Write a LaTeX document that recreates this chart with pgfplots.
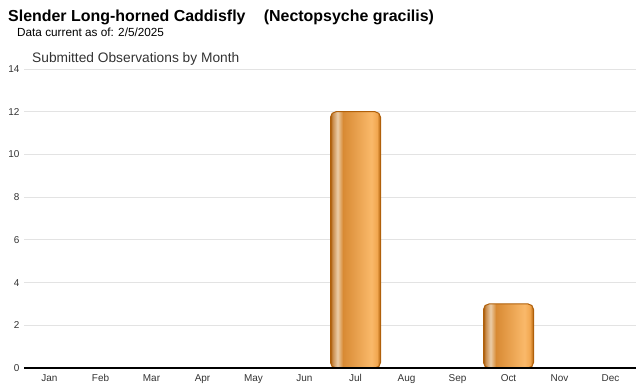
\documentclass[border=0pt]{standalone}
\usepackage{fontspec}
\setmainfont{Liberation Sans}
\usepackage{pgfplots}
\pgfplotsset{compat=1.18}
\definecolor{gridc}{HTML}{E3E3E3}
\definecolor{barborder}{HTML}{B0600A}
\definecolor{ticklab}{HTML}{333333}
\definecolor{sA}{HTML}{A85A08}
\definecolor{sB}{HTML}{C98A48}
\definecolor{sC}{HTML}{EBCDA8}
\definecolor{sD}{HTML}{D88A34}
\definecolor{sE}{HTML}{FAB96A}
\definecolor{sF}{HTML}{F2A750}
\definecolor{sG}{HTML}{B0600A}
\pgfdeclarehorizontalshading{barshade}{100bp}{%
color(0bp)=(sA);
color(25bp)=(sA);
color(27bp)=(sB);
color(32bp)=(sC);
color(37.5bp)=(sD);
color(66bp)=(sE);
color(71.5bp)=(sF);
color(75bp)=(sG);
color(100bp)=(sG)}
\begin{document}
\begin{tikzpicture}[x=1bp,y=1bp]
\path (0,0) rectangle (640,390);
\node[anchor=base west,inner sep=0pt,font=\bfseries\fontsize{16}{19}\selectfont] at (8,369) {Slender Long-horned Caddisfly\hspace{1.15em}(Nectopsyche gracilis)};
\node[anchor=base west,inner sep=0pt,font=\fontsize{11.8}{14}\selectfont] at (17,354) {Data current as of: 2/5/2025};
\node[anchor=base west,inner sep=0pt,font=\fontsize{13.8}{16}\selectfont,text=ticklab] at (32,328) {Submitted Observations by Month};
\begin{axis}[
  at={(24bp,22bp)}, anchor=south west,
  scale only axis, width=612bp, height=299bp,
  xmin=-0.5, xmax=11.5, ymin=0, ymax=14,
  ytick={0,2,...,14},
  xtick={0,...,11},
  xticklabels={Jan,Feb,Mar,Apr,May,Jun,Jul,Aug,Sep,Oct,Nov,Dec},
  axis lines*=left,
  y axis line style={draw=none},
  x axis line style={draw=none},
  ymajorgrids, grid style={gridc, line width=0.8bp},
  major tick length=0pt,
  tick label style={font=\fontsize{10}{12}\selectfont, text=ticklab},
  /pgf/number format/assume math mode=true,
  yticklabel style={xshift=-1bp},
  xticklabel style={yshift=-3bp},
  clip=false,
]
\addplot[ybar, bar width=50bp, bar shift=0pt, draw=barborder, line width=1bp, rounded corners=5.5bp, shading=barshade]
  coordinates {(6,12)};
\addplot[ybar, bar width=50bp, bar shift=0pt, draw=barborder, line width=1bp, rounded corners=5.5bp, shading=barshade]
  coordinates {(9,3)};
\end{axis}
\begin{axis}[
  at={(24bp,22bp)}, anchor=south west,
  scale only axis, width=612bp, height=299bp,
  xmin=-0.5, xmax=11.5, ymin=0, ymax=14,
  axis x line*=bottom, axis y line=none,
  x axis line style={black, line width=1.5bp, -},
  xtick=\empty, ytick=\empty,
]
\addplot[draw=none] coordinates {(0,0)};
\end{axis}
\end{tikzpicture}
\end{document}
